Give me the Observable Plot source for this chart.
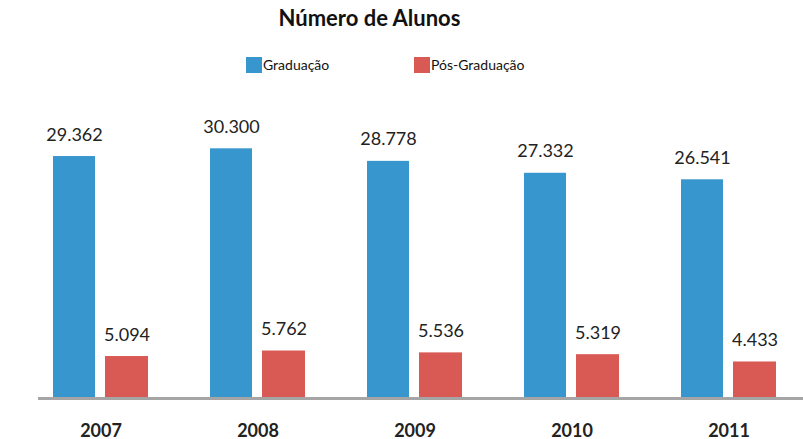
<!DOCTYPE html>
<html>
<head>
<meta charset="utf-8">
<script src="https://cdn.jsdelivr.net/npm/d3@7"></script>
<script src="https://cdn.jsdelivr.net/npm/@observablehq/plot@0.6"></script>
<style>
  html, body { margin: 0; padding: 0; background: #fff; }
  #wrap { position: relative; width: 803px; height: 439px; font-family: Lato, sans-serif; }
  #title { position: absolute; left: 0; width: 739px; top: 4px; text-align: center; font-weight: bold; font-size: 22px; color: #111; }
  .leg { position: absolute; top: 57px; font-size: 14px; color: #111; line-height: 16px; }
  .sw { display: inline-block; width: 16px; height: 16px; vertical-align: top; margin-right: 1px; }
  #chart { position: absolute; left: 0; top: 0; }
</style>
</head>
<body>
<div id="wrap">
  <div id="chart"></div>
  <div id="title">Número de Alunos</div>
  <div class="leg" style="left:246px"><span class="sw" style="background:#3796CD"></span>Graduação</div>
  <div class="leg" style="left:414px"><span class="sw" style="background:#D95A55"></span>Pós-Graduação</div>
</div>
<script>
const years = ["2007", "2008", "2009", "2010", "2011"];
const graduacao = [29362, 30300, 28778, 27332, 26541];
const posGraduacao = [5094, 5762, 5536, 5319, 4433];

const fmt = v => d3.format(",")(v).replace(/,/g, ".");
const gData = years.map((y, i) => ({year: y, value: graduacao[i]}));
const pData = years.map((y, i) => ({year: y, value: posGraduacao[i]}));

const plot = Plot.plot({
  width: 803,
  height: 439,
  marginLeft: 38,
  marginRight: 0,
  marginTop: 0,
  marginBottom: 41,
  style: {fontFamily: "Lato, sans-serif", background: "white"},
  x: {type: "band", domain: years, range: [22, 807], padding: 0, axis: null},
  y: {domain: [0, 48300], axis: null},
  marks: [
    Plot.barY(gData, {x: "year", y: "value", fill: "#3796CD", insetLeft: 31, insetRight: 84}),
    Plot.barY(pData, {x: "year", y: "value", fill: "#D95A55", insetLeft: 83, insetRight: 31}),
    Plot.ruleY([0], {stroke: "#A5A5A5", strokeWidth: 3}),
    Plot.text(gData, {x: "year", y: "value", text: d => fmt(d.value), dx: -26.5, dy: -16, lineAnchor: "bottom", fontSize: 18, fill: "#222"}),
    Plot.text(pData, {x: "year", y: "value", text: d => fmt(d.value), dx: 26, dy: -16, lineAnchor: "bottom", fontSize: 18, fill: "#222"}),
    Plot.text(years, {x: d => d, y: () => 0, text: d => d, dy: 38, lineAnchor: "bottom", fontSize: 18, fontWeight: "bold", fill: "#222"})
  ]
});
document.getElementById("chart").appendChild(plot);
</script>
</body>
</html>
